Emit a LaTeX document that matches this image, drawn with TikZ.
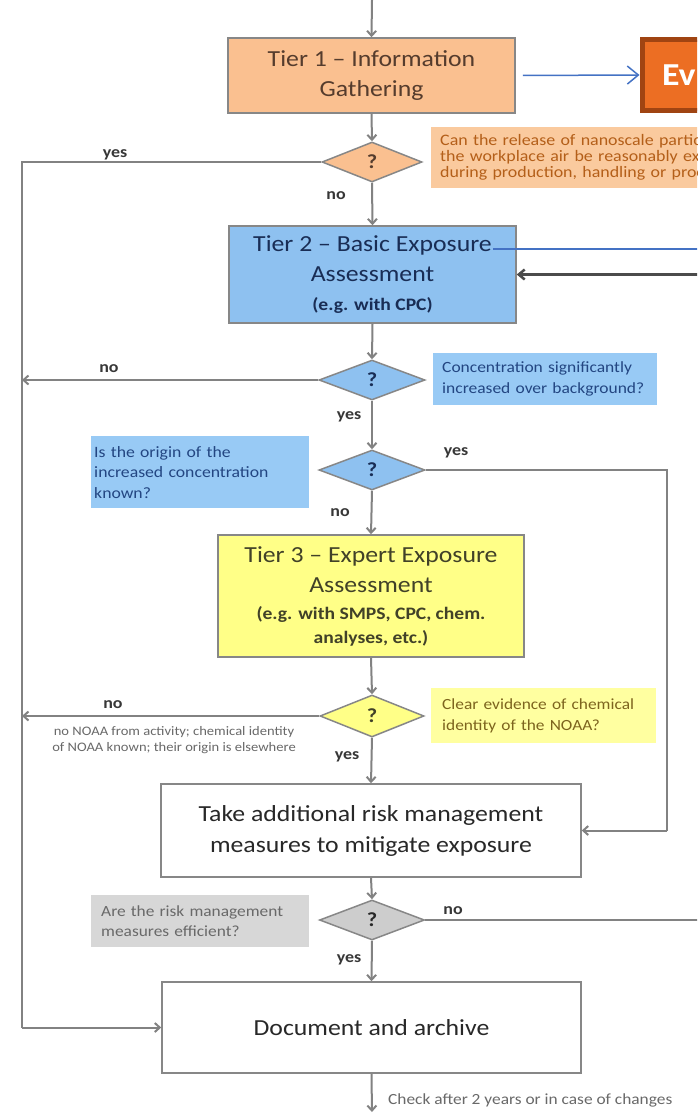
\documentclass[tikz,border=0pt]{standalone}
\usepackage{fontspec}
\setmainfont{Carlito}[FakeStretch=1.12]
\usetikzlibrary{shapes.geometric,arrows.meta}
\definecolor{bordergray}{RGB}{135,135,135}
\definecolor{linegray}{RGB}{130,130,130}
\definecolor{darkline}{RGB}{75,75,75}
\definecolor{orfill}{RGB}{250,192,144}
\definecolor{orann}{RGB}{250,202,158}
\definecolor{ortext}{RGB}{180,95,25}
\definecolor{ortitle}{RGB}{85,60,45}
\definecolor{evfill}{RGB}{236,110,35}
\definecolor{evdraw}{RGB}{160,68,18}
\definecolor{bluefill}{RGB}{142,193,240}
\definecolor{blueann}{RGB}{152,202,245}
\definecolor{bluetext}{RGB}{35,70,130}
\definecolor{bluetitle}{RGB}{25,45,85}
\definecolor{arrowblue}{RGB}{68,114,196}
\definecolor{yelfill}{RGB}{255,255,135}
\definecolor{yelann}{RGB}{255,255,160}
\definecolor{yeltext}{RGB}{125,100,30}
\definecolor{yeltitle}{RGB}{65,65,40}
\definecolor{grayfill}{RGB}{205,205,205}
\definecolor{grayann}{RGB}{215,215,215}
\definecolor{graytext}{RGB}{105,105,105}
\definecolor{boxtext}{RGB}{40,40,40}
\definecolor{labtext}{RGB}{55,55,55}
\tikzset{
  box/.style={draw=bordergray, line width=1.5pt, align=center, inner sep=0pt},
  dia/.style={diamond, draw=bordergray, line width=1.5pt, inner sep=0pt, aspect=2.5,
    font=\bfseries\fontsize{20}{20}\selectfont},
  conn/.style={draw=linegray, line width=2pt},
  arr/.style={conn, -{Straight Barb[length=5pt,width=9pt]}},
  lab/.style={font=\bfseries\fontsize{16}{16}\selectfont, text=labtext, inner sep=0pt},
  ann/.style={anchor=north west, align=left, inner ysep=0pt},
  bigtext/.style={font=\fontsize{23}{30}\selectfont},
}
\newcommand{\subt}{\bfseries\fontsize{17.5}{22}\selectfont}
\begin{document}
\begin{tikzpicture}[x=1pt,y=-1pt]
\useasboundingbox (0,0) rectangle (697,1114);
\clip (0,0) rectangle (697,1114);
\fill[white] (0,0) rectangle (697,1114);

% main boxes
\node[box, bigtext, fill=orfill, text=ortitle, minimum width=287, minimum height=75] (t1) at (371.5,75.5)
  {Tier 1 -- Information\\Gathering};
\node[box, bigtext, fill=bluefill, text=bluetitle, minimum width=287, minimum height=97] (t2) at (372.5,274.5)
  {Tier 2 -- Basic Exposure\\Assessment\\[-1pt]{\subt (e.g. with CPC)}};
\node[box, bigtext, fill=yelfill, text=yeltitle, minimum width=306, minimum height=122] (t3) at (371,596)
  {Tier 3 -- Expert Exposure\\Assessment\\[-3pt]{\subt (e.g. with SMPS, CPC, chem.}\\[-6pt]{\subt analyses, etc.)}};
\node[box, font=\fontsize{23}{31}\selectfont, fill=white, text=boxtext, minimum width=420, minimum height=93] (take) at (371,830.5)
  {Take additional risk management\\measures to mitigate exposure};
\node[box, font=\fontsize{23}{30}\selectfont, fill=white, text=boxtext, minimum width=419, minimum height=91] (doc) at (371.5,1027.5)
  {Document and archive};

% Ev box (cut by the right edge)
\node[draw=evdraw, fill=evfill, line width=5pt, anchor=west, minimum height=71, text width=130,
  inner xsep=20pt, inner ysep=0pt, align=left, text=white, font=\bfseries\fontsize{32}{32}\selectfont]
  (ev) at (639.5,75) {Ev};

% diamonds
\node[dia, fill=orfill, text=ortitle, minimum width=100, minimum height=40] (d1) at (372,162) {?};
\node[dia, fill=bluefill, text=bluetitle, minimum width=106, minimum height=40] (d2) at (372,380) {?};
\node[dia, fill=bluefill, text=bluetitle, minimum width=106, minimum height=40] (d3) at (372,470) {?};
\node[dia, fill=yelfill, text=yeltitle, minimum width=104, minimum height=42] (d4) at (372,716) {?};
\node[dia, fill=grayfill, text=boxtext, minimum width=105, minimum height=40] (d5) at (372,920) {?};

% annotations
\node[ann, fill=orann, text=ortext, minimum width=300, minimum height=61, text width=300, inner xsep=9pt,
  font=\fontsize{16}{16}\selectfont] (a1) at (431,127)
  {Can the release of nanoscale partic\\the workplace air be reasonably exp\\during production, handling or proc};
\node[ann, fill=blueann, text=bluetext, minimum width=224, minimum height=52, text width=206, inner xsep=9pt,
  font=\fontsize{15.6}{21}\selectfont] (a2) at (433,353)
  {Concentration significantly\\increased over background?};
\node[ann, fill=blueann, text=bluetext, minimum width=218, minimum height=72, text width=212, inner xsep=3pt,
  font=\fontsize{15.8}{20.5}\selectfont] (a3) at (91,436)
  {Is the origin of the\\increased concentration\\known?};
\node[ann, fill=yelann, text=yeltext, minimum width=225, minimum height=55, text width=203, inner xsep=11pt,
  font=\fontsize{15.5}{21}\selectfont] (a4) at (431,688)
  {Clear evidence of chemical\\identity of the NOAA?};
\node[ann, fill=grayann, text=graytext, minimum width=218, minimum height=52, text width=198, inner xsep=10pt,
  font=\fontsize{15.5}{20}\selectfont] (a5) at (91,895)
  {Are the risk management\\measures efficient?};
\node[align=center, text=graytext, inner sep=0pt, font=\fontsize{13}{16}\selectfont] (n4) at (174,740)
  {no NOAA from activity; chemical identity\\of NOAA known; their origin is elsewhere};
\node[anchor=west, text=graytext, inner sep=0pt, font=\fontsize{15.5}{18}\selectfont] (chk) at (388,1100)
  {Check after 2 years or in case of changes};

% helper coordinates
\coordinate (top) at (372,0);
\coordinate (L1) at (22,162);
\coordinate (L2) at (22,1027.5);
\coordinate (Ld2) at (22,380);
\coordinate (Ld4) at (22,716);
\coordinate (R1) at (667,470);
\coordinate (R2) at (667,830.5);
\coordinate (Rd5) at (700,920);
\coordinate (bl1) at (493,249);
\coordinate (bl2) at (700,249);
\coordinate (bk1) at (700,274.5);
\coordinate (bot) at (372,1114);

% connectors
\draw[arr] (top) -- (t1.north);
\draw[arr] (t1.south) -- (d1.north);
\draw[conn] (d1.west) -- (L1) -- (L2);
\draw[arr] (L2) -- (doc.west);
\draw[arr] (d1.south) -- (t2.north);
\draw[arr] (t2.south) -- (d2.north);
\draw[arr] (d2.west) -- (Ld2);
\draw[arr] (d2.south) -- (d3.north);
\draw[conn] (d3.east) -- (R1) -- (R2);
\draw[arr] (R2) -- (take.east);
\draw[arr] (d3.south) -- (t3.north);
\draw[arr] (t3.south) -- (d4.north);
\draw[arr] (d4.west) -- (Ld4);
\draw[arr] (d4.south) -- (take.north);
\draw[arr] (take.south) -- (d5.north);
\draw[conn] (d5.east) -- (Rd5);
\draw[arr] (d5.south) -- (doc.north);
\draw[arr, shorten >=2pt] (doc.south) -- (bot);

\draw[draw=arrowblue, line width=1.5pt, -{Straight Barb[length=11pt,width=18pt]}, shorten <=7pt] (t1.east) -- (ev.west);
\draw[draw=arrowblue, line width=1.5pt] (bl1) -- (bl2);
\draw[draw=darkline, line width=2.5pt, -{Straight Barb[length=6pt,width=10pt]}] (bk1) -- (t2.east);

% labels
\node[lab] (y1) at (115,155) {yes};
\node[lab] (n1) at (336,196) {no};
\node[lab] (n2) at (109,369) {no};
\node[lab] (y2) at (349,417) {yes};
\node[lab] (y3) at (456,453) {yes};
\node[lab] (n3) at (340,513) {no};
\node[lab] (n4l) at (113,705) {no};
\node[lab] (y4) at (347,757) {yes};
\node[lab] (n5) at (453,911) {no};
\node[lab] (y5) at (349,960) {yes};
\end{tikzpicture}
\end{document}
